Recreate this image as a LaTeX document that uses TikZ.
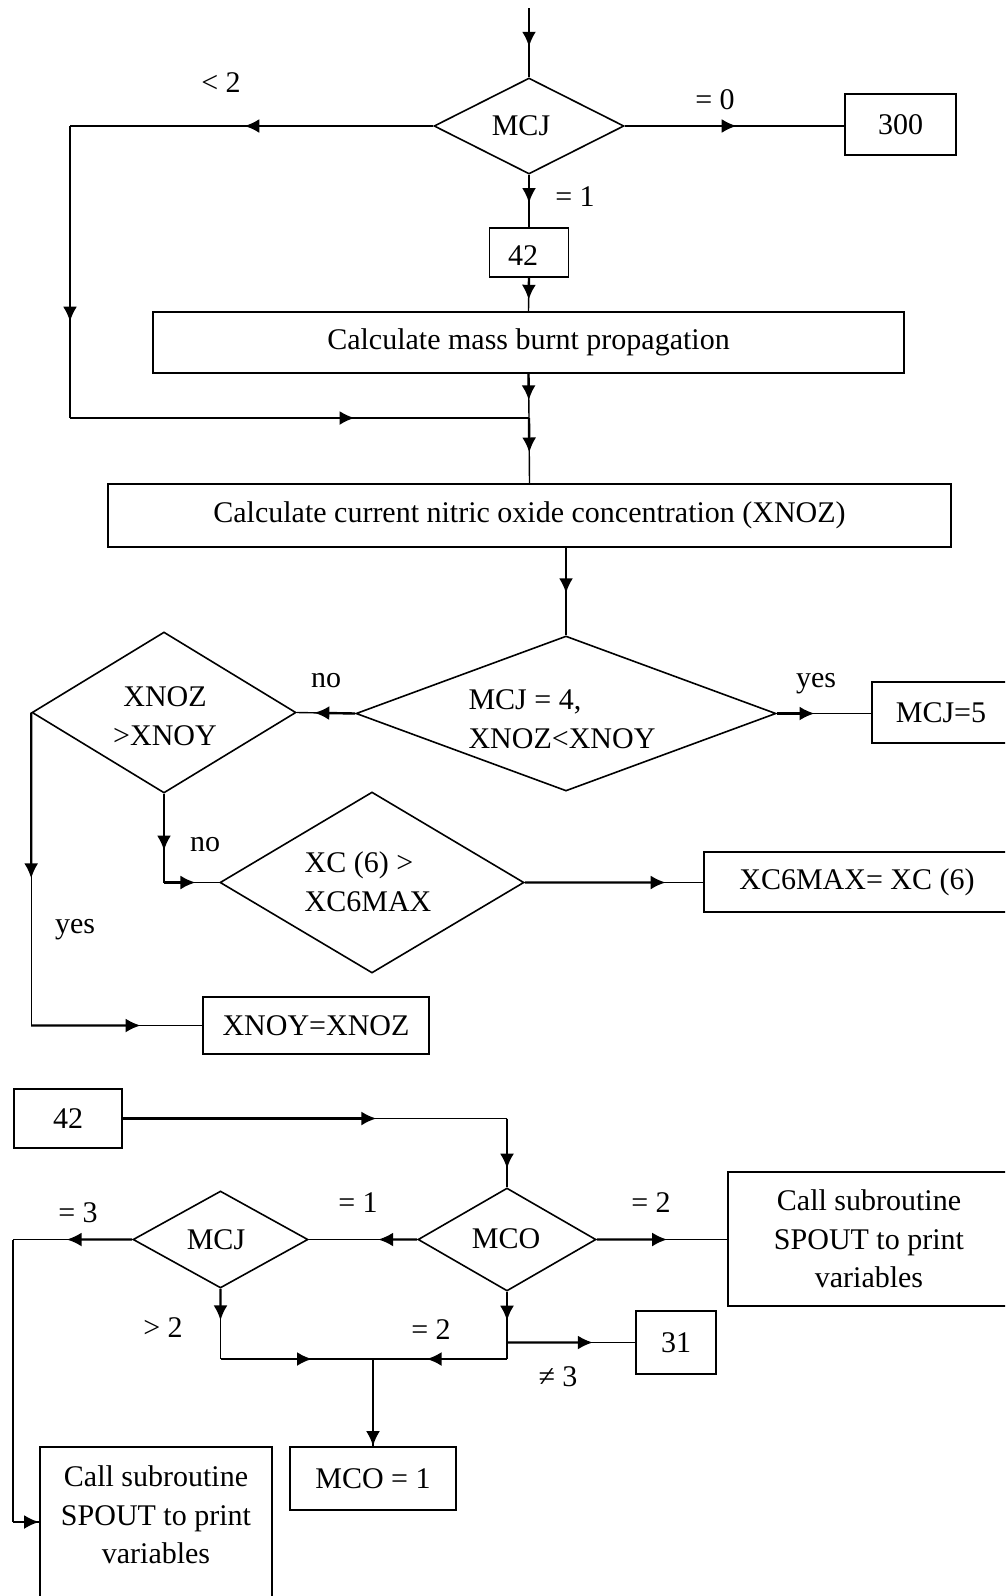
\documentclass[tikz,border=0pt]{standalone}
\usepackage{fontspec}
\setmainfont{Liberation Serif}
\usetikzlibrary{shapes.geometric,arrows.meta,calc}

\tikzset{
  box/.style={draw, line width=1.8pt, inner sep=0pt, align=center},
  dia/.style={draw, shape=diamond, line width=1.6pt, inner sep=0pt},
  conn/.style={line width=1.4pt},
  connhead/.style={line width=2.4pt, -{Latex[length=15pt,width=14pt]}},
}
% connector with the arrowhead part-way along (fraction #3)
\newcommand{\flow}[3]{%
  \draw[conn] (#1) -- (#2);
  \draw[connhead] (#1) -- ($(#1)!#3!(#2)$);
}

\begin{document}
\begin{tikzpicture}[x=1pt,y=-1pt,font=\fontsize{30}{38.5}\selectfont]
\useasboundingbox (0,0) rectangle (1005,1596);
\clip (0,0) rectangle (1005,1596);

% ---------- upper part ----------
\coordinate (start) at (529,8);
\node[dia, minimum width=190pt, minimum height=96pt] (mcj1) at (529,126) {};
\node (mcj1t) at (521,126) {MCJ};
\node[box, minimum width=111pt, minimum height=61pt] (b300) at (900.5,124.5) {300};
\node[box, minimum width=79pt, minimum height=49pt] (b42) at (529,252.5) {};
\node (b42t) at (523,256) {42};
\node[box, minimum width=751pt, minimum height=61pt] (mass) at (528.5,342.5) {Calculate mass burnt propagation};
\node[box, minimum width=843pt, minimum height=63pt] (nox) at (529.5,515.5) {Calculate current nitric oxide concentration (XNOZ)};
\coordinate (c1) at (70,126);
\coordinate (c2) at (70,418);
\coordinate (j1) at (529,418);
\coordinate (e300) at (mcj1.east -| b300.west);

\flow{start}{mcj1.north}{0.56}
\flow{mcj1.west}{c1}{0.52}
\flow{c1}{c2}{0.67}
\flow{c2}{j1}{0.62}
\flow{mcj1.east}{e300}{0.51}
\flow{mcj1.south}{b42.north}{0.54}
\flow{b42.south}{mass.north}{0.66}
\flow{mass.south}{j1}{0.6}
\flow{j1}{nox.north}{0.53}

\node (lt2) at (221,83) {< 2};
\node (leq0) at (715,100) {= 0};
\node (leq1) at (575,197) {= 1};

% ---------- middle part ----------
\node[dia, minimum width=420pt, minimum height=155pt] (mcj4) at (566,713.5) {};
\node[align=left] (mcj4t) at (562,719) {MCJ = 4,\\XNOZ<XNOY};
\node[dia, minimum width=264pt, minimum height=161pt] (xn) at (164,712.5) {};
\node[align=center] (xnt) at (165,716) {XNOZ\\>XNOY};
\node[dia, minimum width=304pt, minimum height=181pt] (xc) at (372,882.5) {};
\node[align=left] (xct) at (368,881.5) {XC (6) >\\XC6MAX};
\node[box, minimum width=138pt, minimum height=61pt] (mcj5) at (941,712.5) {MCJ=5};
\node[box, minimum width=306pt, minimum height=60pt] (xcmax) at (857,882) {XC6MAX= XC (6)};
\node[box, minimum width=226pt, minimum height=57pt] (xnoy) at (316,1025.5) {XNOY=XNOZ};

\coordinate (n1) at (mcj4.north |- nox.south);
\coordinate (m5) at (mcj4.east -| mcj5.west);
\coordinate (c3) at (xn.south |- xc.west);
\coordinate (x6) at (xc.east -| xcmax.west);
\coordinate (c4) at (xn.west |- xnoy.west);

\flow{n1}{mcj4.north}{0.52}
\flow{mcj4.west}{xn.east}{0.7}
\flow{mcj4.east}{m5}{0.4}
\flow{xn.south}{c3}{0.64}
\flow{c3}{xc.west}{0.57}
\flow{xc.east}{x6}{0.79}
\flow{xn.west}{c4}{0.53}
\flow{c4}{xnoy.west}{0.64}

\node (lno1) at (326,681) {no};
\node (lyes1) at (816,684) {yes};
\node (lno2) at (205,845) {no};
\node (lyes2) at (75,930) {yes};

% ---------- lower part ----------
\node[box, minimum width=108pt, minimum height=59pt] (b42b) at (68,1118.5) {42};
\node[dia, minimum width=178pt, minimum height=103pt] (mco) at (507,1239.5) {};
\node (mcot) at (506,1239) {MCO};
\node[dia, minimum width=175pt, minimum height=97pt] (mcj2) at (220.5,1239.5) {};
\node (mcj2t) at (216,1240) {MCJ};
\node[box, minimum width=282pt, minimum height=134pt] (spa) at (869,1239) {Call subroutine\\SPOUT to print\\variables};
\node[box, minimum width=80pt, minimum height=63pt] (b31) at (676,1342.5) {31};
\node[box, minimum width=166pt, minimum height=63pt] (mco1) at (373,1478.5) {MCO = 1};
\node[box, minimum width=232pt, minimum height=150pt] (spb) at (156,1522) {};
\node[align=center] (spbt) at (156,1515) {Call subroutine\\SPOUT to print\\variables};

\coordinate (c5) at (mco.north |- b42b.east);
\coordinate (sp1) at (mco.east -| spa.west);
\coordinate (c6) at (13,1239.5);
\coordinate (c7) at (c6 |- spb.west);
\coordinate (j2) at (373,1359);
\coordinate (c8) at (mcj2.south |- j2);
\coordinate (c9) at (mco.south |- j2);
\coordinate (c10) at (mco.south |- b31.west);

\flow{b42b.east}{c5}{0.66}
\flow{c5}{mco.north}{0.73}
\flow{mco.west}{mcj2.east}{0.36}
\flow{mco.east}{sp1}{0.54}
\flow{mcj2.west}{c6}{0.55}
\draw[conn] (c6) -- (c7);
\flow{c7}{spb.west}{1}
\flow{mcj2.south}{c8}{0.45}
\flow{c8}{j2}{0.6}
\flow{mco.south}{c9}{0.43}
\flow{c9}{j2}{0.6}
\flow{c10}{b31.west}{0.67}
\flow{j2}{mco1.north}{1}

\node (leq1b) at (358,1203) {= 1};
\node (leq2a) at (651,1203) {= 2};
\node (leq3) at (78,1213) {= 3};
\node (lgt2) at (163,1328) {> 2};
\node (leq2b) at (431,1330) {= 2};
\node (lne3) at (558,1377) {≠ 3};
\end{tikzpicture}
\end{document}
